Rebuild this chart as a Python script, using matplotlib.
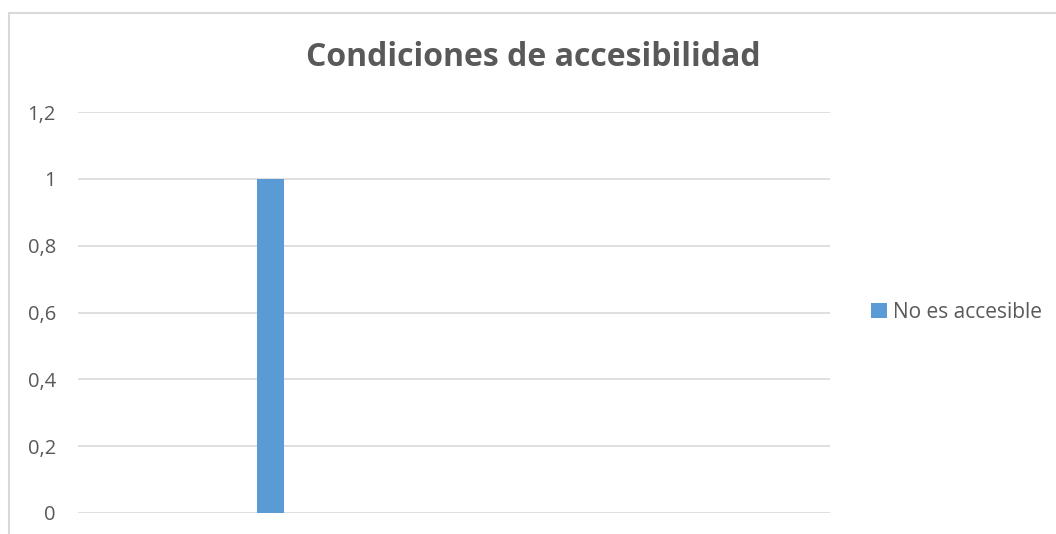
import matplotlib
matplotlib.use("Agg")
import matplotlib.pyplot as plt
from matplotlib.patches import Rectangle
from matplotlib.ticker import FuncFormatter

# datos
categorias = ["1", "2"]
no_es_accesible = [1, 0]
serie = "No es accesible"
titulo = "Condiciones de accesibilidad"

plt.rcParams['font.family'] = ['Open Sans', 'DejaVu Sans']
gris = "#595959"
linea = "#d9d9d9"

fig = plt.figure(figsize=(10.56, 5.34), dpi=100)
ax = fig.add_axes([78/1056, 1-513/534, (830-78)/1056, (513-112)/534])

x = list(range(len(categorias)))
ax.bar(x, no_es_accesible, width=0.072, color="#5b9bd5", label=serie, zorder=3)
ax.set_xlim(-0.512, 1.488)
ax.set_ylim(0, 1.2)
ax.set_yticks([0, 0.2, 0.4, 0.6, 0.8, 1.0, 1.2])
ax.yaxis.set_major_formatter(FuncFormatter(lambda v, p: ("%g" % round(v, 1)).replace(".", ",")))
ax.grid(axis="y", color=linea, linewidth=1.2, zorder=0)
ax.set_xticks([])
for s in ax.spines.values():
    s.set_visible(False)
ax.tick_params(axis="y", length=0, pad=16, labelsize=14.5, labelcolor=gris)

fig.text(533/1056, 1-58/534, titulo, ha="center", va="center",
         fontsize=23, fontweight="bold", color=gris)

leg = fig.legend(loc="center left", bbox_to_anchor=(871/1056, 1-312/534), frameon=False,
                 borderpad=0, borderaxespad=0, fontsize=15, handlelength=0.75,
                 handleheight=0.75, handletextpad=0.3)
for t in leg.get_texts():
    t.set_color(gris)

# borde del área del gráfico
fig.patches.append(Rectangle((9/1056, -0.1), 1.2, 1-13/534+0.1, transform=fig.transFigure,
                             fill=False, edgecolor=linea, linewidth=1.5))

fig.savefig("out.png", dpi=100)
